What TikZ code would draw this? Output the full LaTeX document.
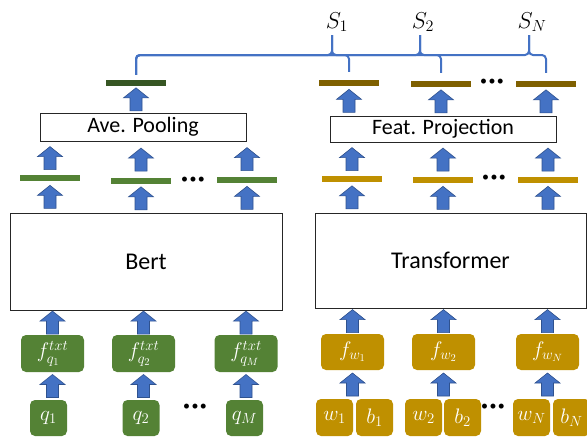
\documentclass[tikz,border=0pt]{standalone}
\usepackage{fix-cm}
\usepackage{fontspec}
\setmainfont{Carlito}
\usepackage{amsmath}
\usetikzlibrary{positioning, calc}
\definecolor{qgreen}{HTML}{548235}
\definecolor{poolgreen}{HTML}{375623}
\definecolor{wgold}{HTML}{BF9000}
\definecolor{projbrown}{HTML}{7F6000}
\definecolor{arrowfill}{HTML}{4472C4}
\definecolor{arrowedge}{HTML}{2F528F}
\tikzstyle{block}=[draw=black!85, line width=0.9pt, inner sep=0pt, font=\fontsize{22}{24}\selectfont]
\tikzstyle{feat}=[minimum width=60pt, minimum height=6pt, inner sep=0pt]
\tikzstyle{token}=[rounded corners=5pt, text=white, inner sep=0pt, font=\fontsize{21}{24}\selectfont]
\tikzstyle{dots}=[inner sep=0pt, font=\fontsize{14}{16}\selectfont]
\tikzstyle{brace}=[draw=arrowfill, line width=2pt, rounded corners=4pt]
\tikzstyle{blockup}=[fill=arrowfill, draw=arrowedge, line width=0.6pt,
  to path={let \p1=(\tikztostart), \p2=(\tikztotarget) in
    ({\x1-6pt},{(\y1+\y2)/2-11.5pt}) -- ({\x1-6pt},{(\y1+\y2)/2+1.5pt})
    -- ({\x1-12.5pt},{(\y1+\y2)/2+1.5pt}) -- ({\x1},{(\y1+\y2)/2+11.5pt})
    -- ({\x1+12.5pt},{(\y1+\y2)/2+1.5pt}) -- ({\x1+6pt},{(\y1+\y2)/2+1.5pt})
    -- ({\x1+6pt},{(\y1+\y2)/2-11.5pt}) -- cycle}]

\begin{document}
\begin{tikzpicture}[x=1pt, y=-1pt]
    \useasboundingbox (0,0) rectangle (587,437);

    % query branch
    \foreach \l/\x [count=\i] in {1/48.5, 2/141, M/244.5}
    \node [token, fill=qgreen, minimum width=37pt, minimum height=36pt] (q-\i) at (\x,418) {$q_\l$};

    \foreach \l/\x [count=\i] in {1/52.5, 2/143.5, M/246}
    \node [token, fill=qgreen, minimum width=63pt, minimum height=37pt] (fq-\i) at (\x,353.5) {$f^{txt}_{q_\l}$};

    \node [block, minimum width=272pt, minimum height=97pt, font=\fontsize{24}{26}\selectfont] (bert) at (146,261.5) {Bert};

    \foreach \x/\y [count=\i] in {50/178, 141/181, 247/180}
    \node [feat, fill=qgreen] (gbar-\i) at (\x,\y) {};

    \node [block, minimum width=206pt, minimum height=28pt] (pool) at (143,127) {Ave. Pooling};
    \node [feat, fill=poolgreen] (gtop) at (136,83) {};

    \node [dots] (qdots) at (195,407) {\textbullet\kern1.5pt\textbullet\kern1.5pt\textbullet};
    \node [dots] (gdots) at (193,180) {\textbullet\kern1.5pt\textbullet\kern1.5pt\textbullet};

    \foreach \i in {1,2,3} {
    \draw [blockup] (fq-\i.south |- q-\i.north) to (fq-\i.south);
    \draw [blockup] (fq-\i.north) to (fq-\i.north |- bert.south);
    \draw [blockup] (gbar-\i.south |- bert.north) to (gbar-\i.south);
    \draw [blockup] (gbar-\i.north) to (gbar-\i.north |- pool.south);
    }
    \draw [blockup] (gtop.south |- pool.north) to (gtop.south);

    % word branch
    \foreach \l/\x [count=\i] in {1/334.5, 2/423.5, N/531.5}
    \node [token, fill=wgold, minimum width=37pt, minimum height=37pt] (w-\i) at (\x,417.5) {$w_\l$};
    \foreach \l/\x [count=\i] in {1/374.5, 2/462.5, N/571.5}
    \node [token, fill=wgold, minimum width=37pt, minimum height=37pt] (b-\i) at (\x,417.5) {$b_\l$};

    \foreach \l/\x [count=\i] in {1/352.5, 2/443.5, N/547.5}
    \node [token, fill=wgold, minimum width=63pt, minimum height=36pt] (fw-\i) at (\x,352) {$f_{w_\l}$};

    \node [block, minimum width=271pt, minimum height=95pt, font=\fontsize{24}{26}\selectfont] (trans) at (450.5,260.5) {Transformer};

    \foreach \x/\y [count=\i] in {352/179, 443/180, 548/180}
    \node [feat, fill=wgold] (ybar-\i) at (\x,\y) {};

    \node [block, minimum width=226pt, minimum height=26pt] (proj) at (443,129) {Feat. Projection};

    \foreach \x/\y [count=\i] in {349/83, 441/84, 546/84}
    \node [feat, fill=projbrown] (btop-\i) at (\x,\y) {};

    \node [dots] (wdots) at (493,407) {\textbullet\kern1.5pt\textbullet\kern1.5pt\textbullet};
    \node [dots] (ydots) at (494,178) {\textbullet\kern1.5pt\textbullet\kern1.5pt\textbullet};
    \node [dots] (bdots) at (492,82) {\textbullet\kern1.5pt\textbullet\kern1.5pt\textbullet};

    \foreach \i in {1,2,3} {
    \draw [blockup] (fw-\i.south |- w-\i.north) to (fw-\i.south);
    \draw [blockup] (fw-\i.north) to (fw-\i.north |- trans.south);
    \draw [blockup] (ybar-\i.south |- trans.north) to (ybar-\i.south);
    \draw [blockup] (ybar-\i.north) to (ybar-\i.north |- proj.south);
    \draw [blockup] (btop-\i.south |- proj.north) to (btop-\i.south);
    }

    % similarity braces
    \coordinate (hl) at (0,55);
    \foreach \l/\x/\t [count=\i] in {1/337/332, 2/423/420, N/532/529} {
    \node [font=\fontsize{23}{26}\selectfont, inner sep=0pt] (S-\i) at (\x,22) {$S_\l$};
    \coordinate (tip-\i) at (\t,35);
    }
    \foreach \i in {1,2,3} {
    \draw [brace] ([yshift=5pt]gtop.north) |- (tip-\i |- hl) -- (tip-\i);
    \draw [brace] (tip-\i) -- (tip-\i |- hl) -| ([yshift=8pt]btop-\i.north);
    }

  \end{tikzpicture}
\end{document}
